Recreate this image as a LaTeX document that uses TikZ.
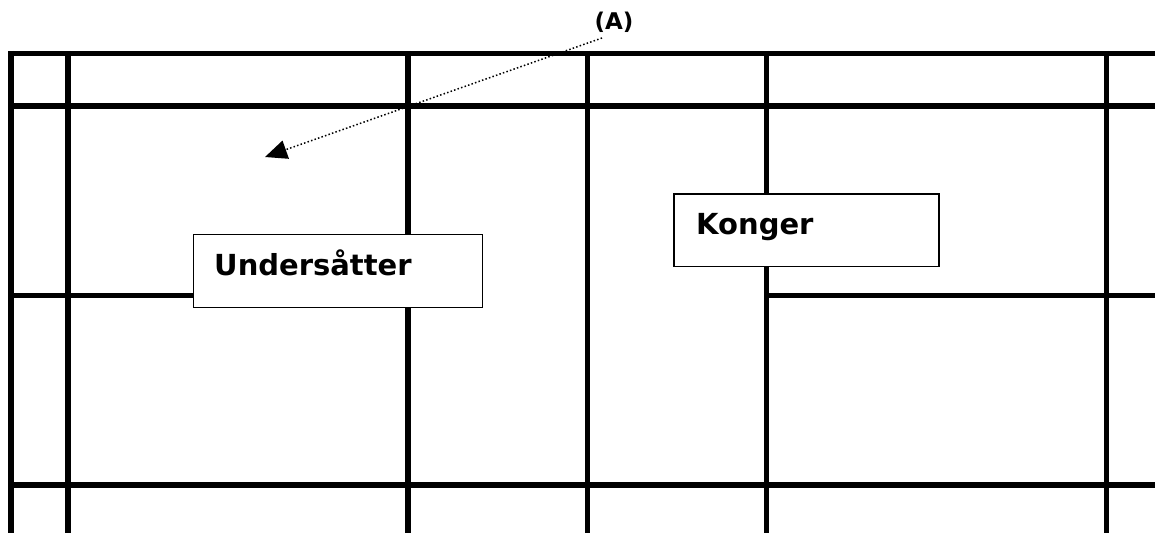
\documentclass[tikz,border=0pt]{standalone}
\usepackage{fontspec}
\setmainfont{DejaVu Sans}
\usetikzlibrary{arrows.meta}
\tikzset{
  grid/.style={line width=5.5pt, black},
  box/.style={draw=black, line width=1.2pt, fill=white, anchor=north west, inner sep=0pt},
  lbl/.style={font=\bfseries\fontsize{29}{33}\selectfont, anchor=base west, inner sep=0pt},
  ptr/.style={line width=1.5pt, dash pattern=on 1.5pt off 2.2pt, -{Triangle[length=22pt,width=19pt]}}
}
\begin{document}
\begin{tikzpicture}[x=1pt,y=-1pt]
\useasboundingbox (0,0) rectangle (1155,533);
% horizontal rules
\draw[grid] (8.25,53.5) -- (1155,53.5);
\draw[grid] (8.25,106) -- (1155,106);
\draw[grid] (8.25,295.5) -- (200,295.5);
\draw[grid] (766.5,295.5) -- (1155,295.5);
\draw[grid] (8.25,485) -- (1155,485);
% vertical rules
\foreach \x in {11,68,408,587.5,766.5,1106.5}
  \draw[grid] (\x,50.75) -- (\x,533);
% boxes
\node[box, minimum width=289pt, minimum height=73pt] (undbox) at (193,234) {};
\node[lbl] (und) at (214,275) {Undersåtter};
\node[box, minimum width=265pt, minimum height=72.5pt] (kbox) at (673.3,193.3) {};
\node[lbl] (kon) at (696,234) {Konger};
% label A and pointer
\node[font=\bfseries\fontsize{23}{27}\selectfont, inner sep=0pt] (A) at (614,22) {(A)};
\coordinate (astart) at (602,38);
\coordinate (aend) at (265,157);
\draw[ptr] (astart) -- (aend);
\end{tikzpicture}
\end{document}
